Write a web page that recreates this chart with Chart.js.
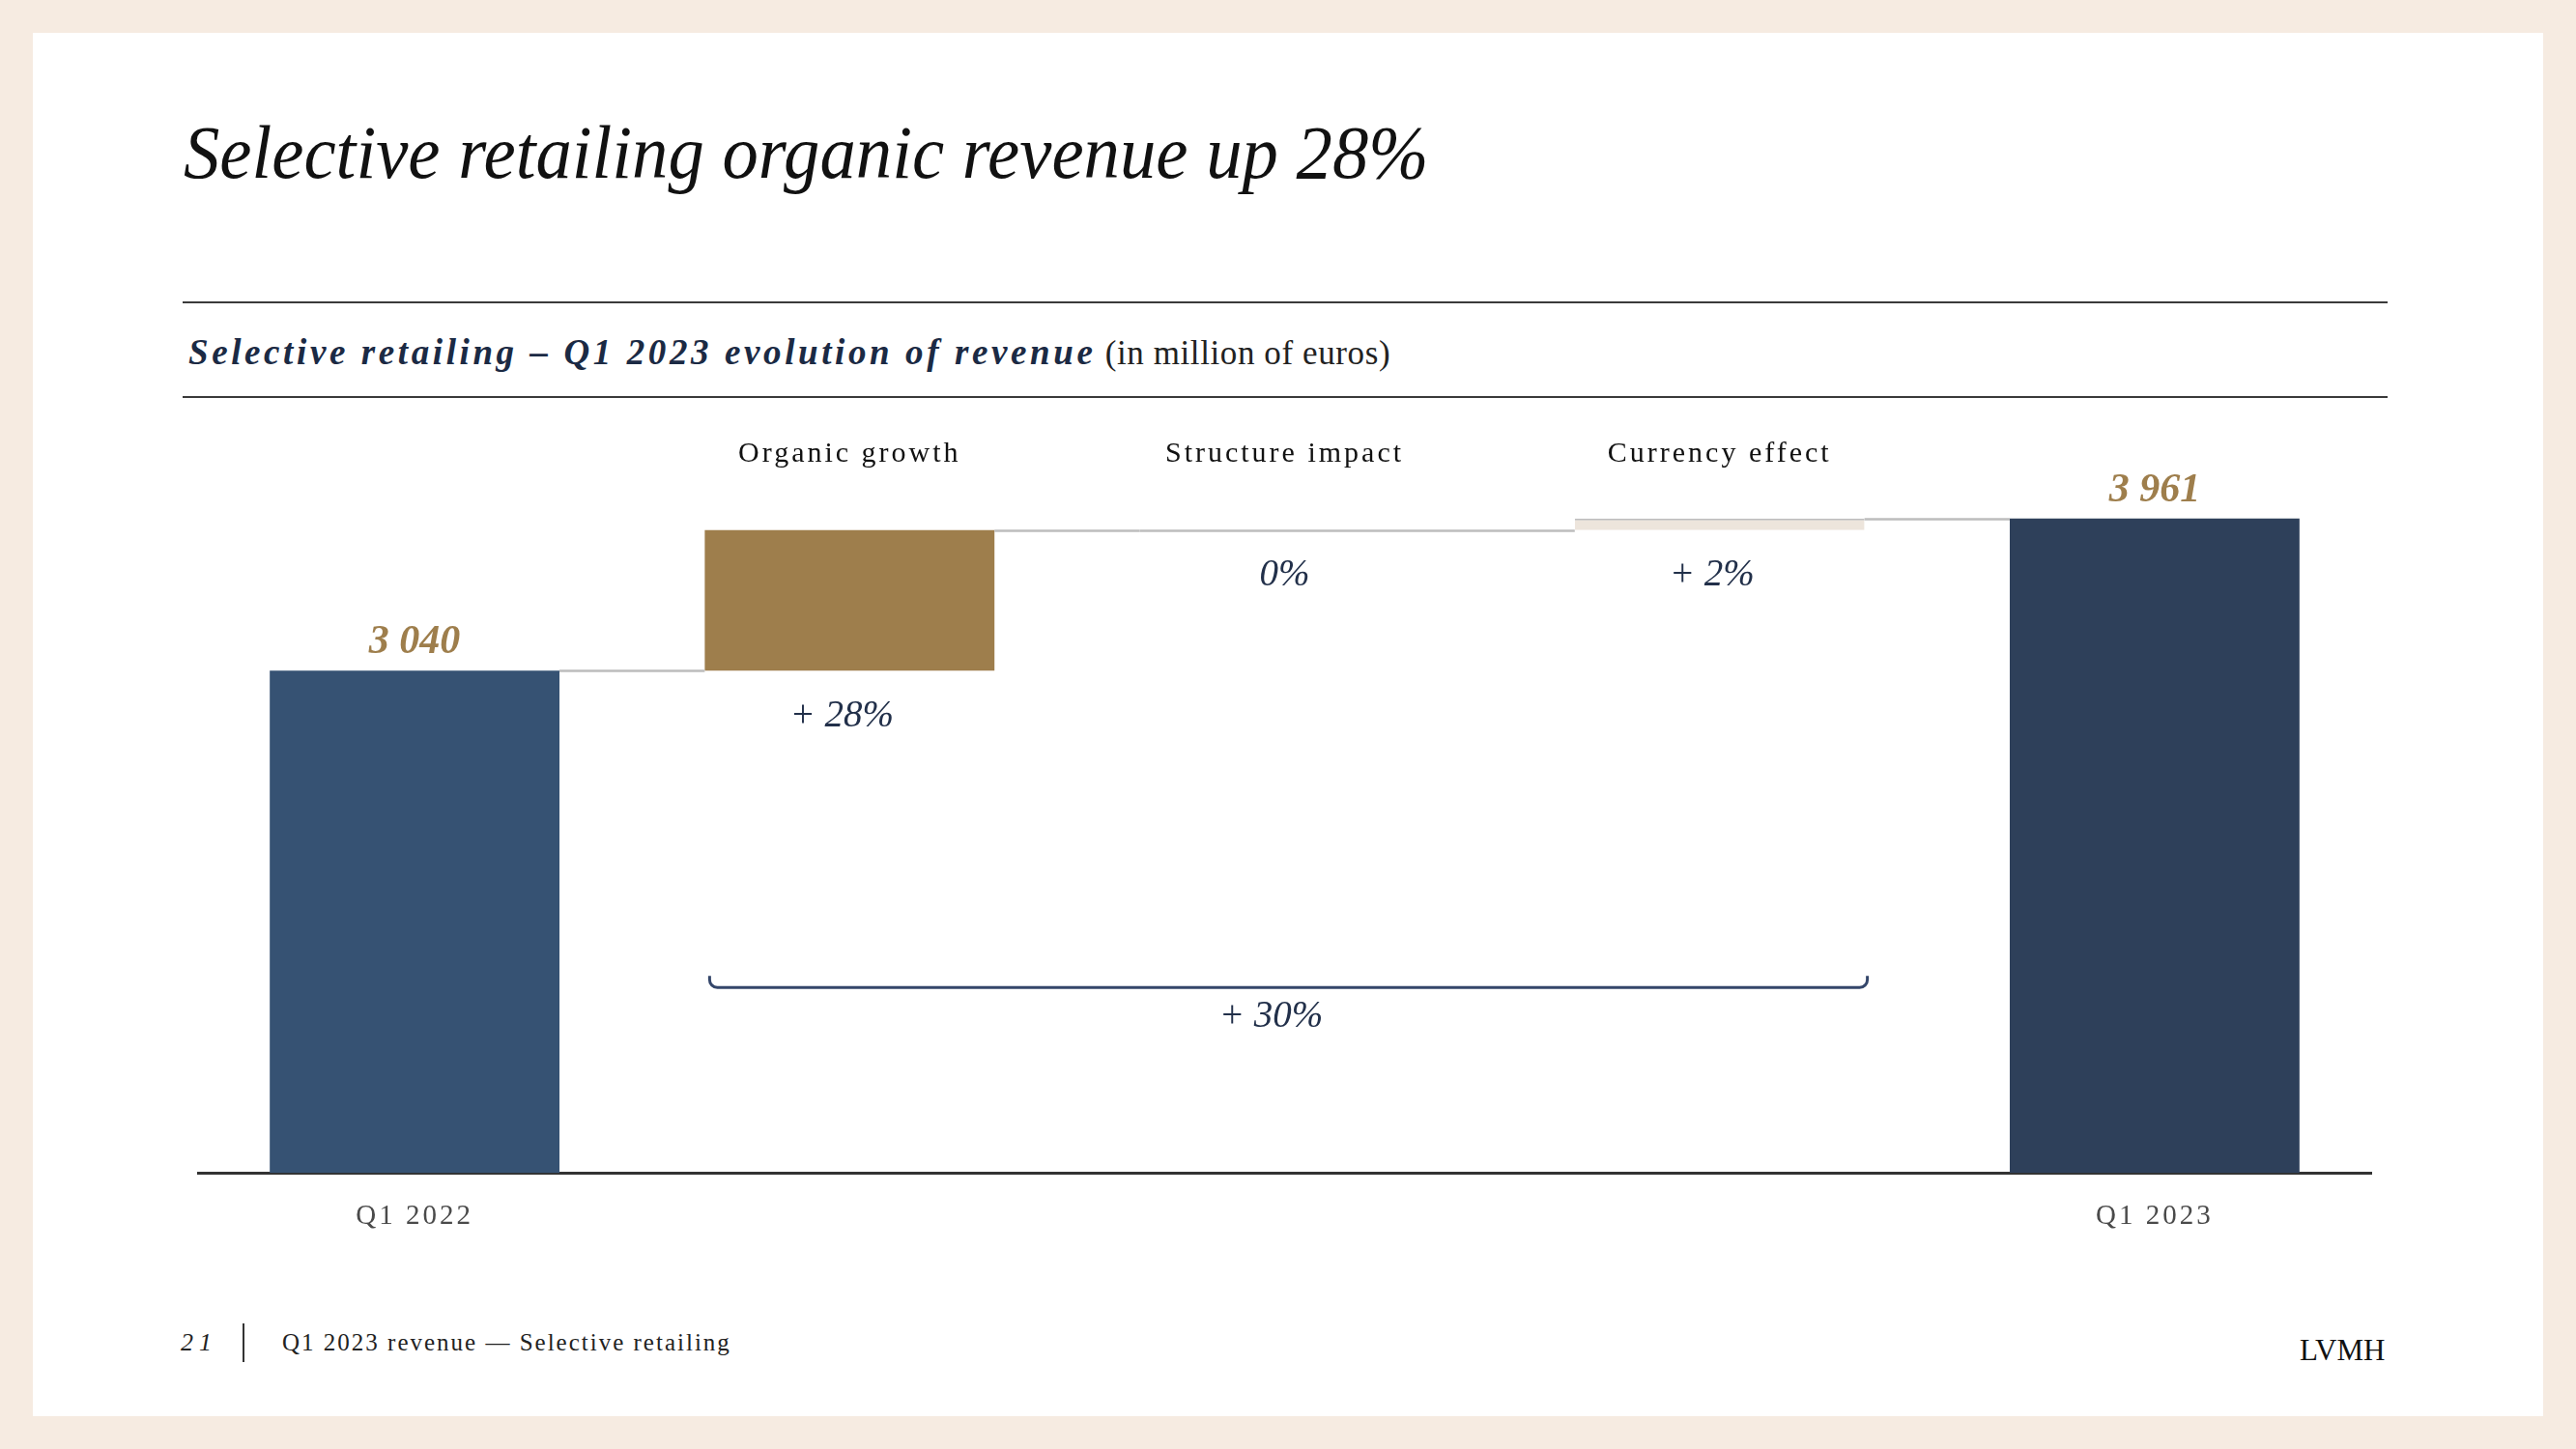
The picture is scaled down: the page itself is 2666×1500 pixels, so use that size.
<!DOCTYPE html>
<html>
<head>
<meta charset="utf-8">
<script src="https://cdn.jsdelivr.net/npm/chart.js@4.4.0/dist/chart.umd.min.js"></script>
<style>
  html, body { margin: 0; padding: 0; }
  body {
    width: 2666px; height: 1500px; overflow: hidden; position: relative;
    background: #F6EBE1; font-family: "Liberation Serif", "DejaVu Serif", serif;
  }
  .card { position: absolute; left: 34px; top: 34px; width: 2598px; height: 1432px; background: #fff; }
  .abs { position: absolute; white-space: nowrap; line-height: 1; }
  .rule { position: absolute; left: 189px; width: 2282px; height: 2px; background: #3a3a3a; }
  #title { left: 190px; top: 119px; font-size: 78px; font-style: italic; color: #111; transform: scaleX(0.958); transform-origin: left top; }
  #subtitle { left: 195px; top: 346px; font-size: 37px; color: #1B2A44; }
  #subtitle b { font-style: italic; letter-spacing: 3.6px; }
  #subtitle span { font-size: 35px; color: #222; letter-spacing: 0.6px; }
  #pageNo { left: 187px; top: 1377px; font-size: 26px; font-style: italic; letter-spacing: 6px; color: #222; }
  #divider { position: absolute; left: 251px; top: 1370px; width: 2px; height: 40px; background: #333; }
  #footer { left: 292px; top: 1377px; font-size: 25px; letter-spacing: 2px; color: #222; }
  #brand { left: 2380px; top: 1382px; font-size: 31px; color: #111; }
  #chartBox { position: absolute; left: 204px; top: 444px; width: 2251px; height: 861px; }
</style>
</head>
<body>
<div class="card"></div>
<div class="abs" id="title">Selective retailing organic revenue up 28%</div>
<div class="rule" style="top:312px"></div>
<div class="abs" id="subtitle"><b>Selective retailing – Q1 2023 evolution of revenue</b> <span>(in million of euros)</span></div>
<div class="rule" style="top:410px"></div>
<div id="chartBox"><canvas id="chart"></canvas></div>
<div class="abs" id="pageNo">21</div>
<div id="divider"></div>
<div class="abs" id="footer">Q1 2023 revenue — Selective retailing</div>
<div class="abs" id="brand">LVMH</div>

<script>
// waterfall: Q1 2022 revenue -> drivers -> Q1 2023 revenue (million euros)
const categories = ['Q1 2022', 'Organic growth', 'Structure impact', 'Currency effect', 'Q1 2023'];
const totals = [3040, null, null, null, 3961];
const changes = [null, 851, 0, 70, null];
const totalLabels = ['3 040', '', '', '', '3 961'];
const changeLabels = ['', '+ 28%', '0%', '+ 2%', ''];
const bridgeFrom = 1, bridgeTo = 3;
const bridgeLabel = '+ 30%';

const NAVY = '#365273';
const NAVY_DARK = '#2E405A';
const GOLD = '#9E7E4C';
const SAND = '#EDE5DC';
const INK = '#22304A';
const CONNECTOR = '#BDBDBD';
const barColors = [NAVY, GOLD, SAND, SAND, NAVY_DARK];

let running = 0;
const floating = categories.map((_, i) => {
  if (totals[i] != null) { running = totals[i]; return [0, totals[i]]; }
  const from = running;
  running += changes[i];
  return [from, running];
});

const SERIF = '"Liberation Serif", "DejaVu Serif", serif';

// "+ x%" labels sit a little left of the bar centre in the original
const nudge = (txt) => (txt.startsWith('+') ? -8 : 0);

const decor = {
  id: 'decor',
  beforeDraw(chart) { chart.ctx.letterSpacing = '3px'; },
  beforeDatasetsDraw(chart) { chart.ctx.letterSpacing = '0px'; },
  afterDatasetsDraw(chart) {
    const { ctx, chartArea } = chart;
    const y = chart.scales.y;
    const bars = chart.getDatasetMeta(0).data;
    ctx.save();

    // connectors between bars
    ctx.strokeStyle = CONNECTOR;
    ctx.lineWidth = 2.5;
    bars.forEach((bar, i) => {
      const level = Math.round(y.getPixelForValue(floating[i][1])) + 0.5;
      ctx.beginPath();
      if (Math.abs(bar.base - bar.y) < 1) {
        ctx.moveTo(bar.x - bar.width / 2, level);
        ctx.lineTo(bar.x + bar.width / 2, level);
      }
      if (i < bars.length - 1) {
        const next = bars[i + 1];
        ctx.moveTo(bar.x + bar.width / 2, level);
        ctx.lineTo(next.x - next.width / 2, level);
      }
      ctx.stroke();
    });

    ctx.textAlign = 'center';
    ctx.textBaseline = 'middle';
    bars.forEach((bar, i) => {
      if (totalLabels[i]) {
        ctx.fillStyle = GOLD;
        ctx.font = 'italic bold 42px ' + SERIF;
        ctx.fillText(totalLabels[i], bar.x, Math.min(bar.y, bar.base) - 29);
      }
      if (changeLabels[i]) {
        ctx.fillStyle = INK;
        ctx.font = 'italic 39px ' + SERIF;
        ctx.fillText(changeLabels[i], bar.x + nudge(changeLabels[i]), Math.max(bar.y, bar.base) + 47);
      }
    });

    // bracket spanning the bridge items
    const a = bars[bridgeFrom], b = bars[bridgeTo];
    const x1 = a.x - a.width / 2 + 5, x2 = b.x + b.width / 2 + 3;
    const by = chartArea.bottom - 192, r = 8, h = 12;
    ctx.strokeStyle = '#34466A';
    ctx.lineWidth = 3;
    ctx.beginPath();
    ctx.moveTo(x1, by - h);
    ctx.arcTo(x1, by, x1 + r, by, r);
    ctx.lineTo(x2 - r, by);
    ctx.arcTo(x2, by, x2, by - h, r);
    ctx.lineTo(x2, by - h);
    ctx.stroke();
    ctx.fillStyle = INK;
    ctx.font = 'italic 39px ' + SERIF;
    ctx.fillText(bridgeLabel, (x1 + x2) / 2 - 18, by + 31);
    ctx.restore();
  }
};

new Chart(document.getElementById('chart'), {
  type: 'bar',
  data: {
    labels: categories,
    datasets: [{
      data: floating,
      backgroundColor: barColors,
      borderColor: categories.map((_, i) => i === 3 ? CONNECTOR : 'rgba(0,0,0,0)'),
      borderWidth: categories.map((_, i) => i === 3 ? { top: 2 } : 0),
      borderSkipped: false,
      categoryPercentage: 1,
      barPercentage: 0.666,
    }],
  },
  options: {
    responsive: true,
    maintainAspectRatio: false,
    animation: false,
    layout: { padding: 0 },
    plugins: { legend: { display: false }, tooltip: { enabled: false } },
    scales: {
      x: {
        position: 'bottom',
        grid: { display: false, drawTicks: false },
        border: { display: true, color: '#333', width: 3 },
        ticks: {
          padding: 28,
          color: '#4a4a4a',
          font: { family: SERIF, size: 29 },
          maxRotation: 0,
          autoSkip: false,
          callback: (v, i) => (totals[i] != null ? categories[i] : ''),
        },
      },
      x2: {
        type: 'category',
        position: 'top',
        labels: categories,
        offset: true,
        grid: { display: false, drawTicks: false },
        border: { display: false },
        ticks: {
          padding: 8,
          color: '#111',
          font: { family: SERIF, size: 30 },
          maxRotation: 0,
          autoSkip: false,
          callback: (v, i) => (totals[i] == null ? categories[i] : ''),
        },
      },
      y: { display: false, min: 0, max: 4200 },
    },
  },
  plugins: [decor],
});
</script>
</body>
</html>
